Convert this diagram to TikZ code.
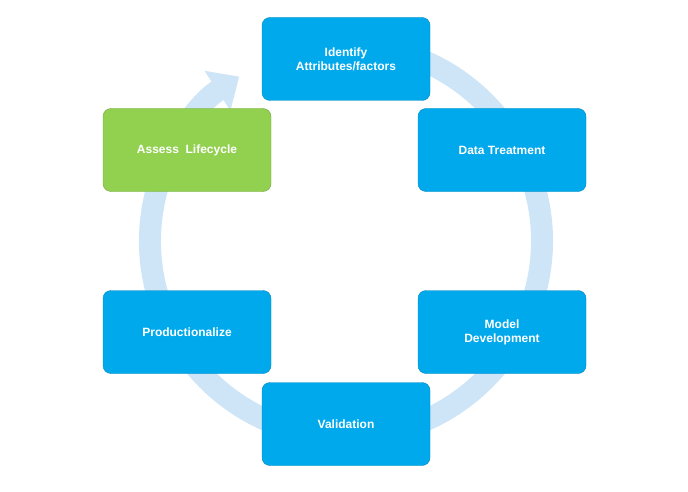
\documentclass[tikz,border=0pt]{standalone}
\usepackage{fontspec}
\setmainfont{Liberation Sans}
\usetikzlibrary{arrows.meta}
\definecolor{stepblue}{RGB}{0,169,236}
\definecolor{stepgreen}{RGB}{146,208,80}
\definecolor{ringblue}{RGB}{206,229,248}
\tikzset{
  stepbox/.style={rectangle, rounded corners=8pt, fill=stepblue, draw=stepblue!80!black, line width=0.4pt,
    minimum width=168pt, minimum height=83pt, align=center, text=white, font=\bfseries\fontsize{12}{14}\selectfont},
  ring/.style={ringblue, line width=22pt, -{Triangle[length=26pt,width=46pt]}}
}
\begin{document}
\begin{tikzpicture}[x=1pt,y=1pt]
\useasboundingbox (0,0) rectangle (688,-492);
\coordinate (c) at (346,-241);
\draw[ring] ([shift={(80:196)}]c) arc[start angle=80, end angle=-237, radius=196pt];

\node[stepbox] (ident) at (346,-59) {Identify\\Attributes/factors};
\node[stepbox] (treat) at (502,-150) {Data Treatment};
\node[stepbox] (model) at (502,-332) {Model\\Development};
\node[stepbox] (valid) at (346,-424) {Validation};
\node[stepbox] (prod)  at (187,-332) {Productionalize};
\node[stepbox, fill=stepgreen, draw=stepgreen!80!black] (assess) at (187,-150) {Assess\ \ Lifecycle};
\end{tikzpicture}
\end{document}
